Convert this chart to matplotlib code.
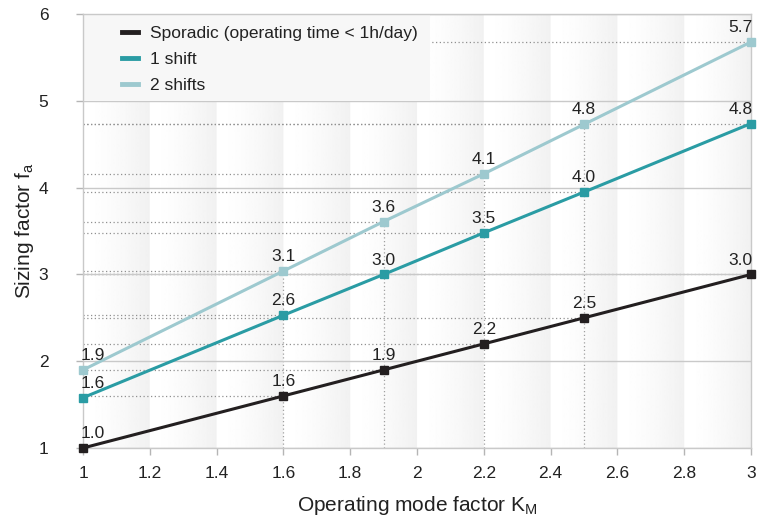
import matplotlib.pyplot as plt
from matplotlib.patches import Rectangle
import numpy as np

plt.rcParams['font.family'] = ['Liberation Sans', 'DejaVu Sans']

# ---------------- data ----------------
km = [1.0, 1.6, 1.9, 2.2, 2.5, 3.0]
sporadic = [1.0, 1.6, 1.9, 2.2, 2.5, 3.0]
one_shift = [1.58, 2.53, 3.0, 3.48, 3.95, 4.74]
two_shifts = [1.9, 3.04, 3.61, 4.16, 4.73, 5.68]
sporadic_lbl = ['1.0', '1.6', '1.9', '2.2', '2.5', '3.0']
one_shift_lbl = ['1.6', '2.6', '3.0', '3.5', '4.0', '4.8']
two_shifts_lbl = ['1.9', '3.1', '3.6', '4.1', '4.8', '5.7']
series_names = ['Sporadic (operating time < 1h/day)', '1 shift', '2 shifts']
colors = ['#231f20', '#2a9ca4', '#9dc9cf']
x_ticks = [1, 1.2, 1.4, 1.6, 1.8, 2, 2.2, 2.4, 2.6, 2.8, 3]
x_tick_lbl = ['1', '1.2', '1.4', '1.6', '1.8', '2', '2.2', '2.4', '2.6', '2.8', '3']
y_ticks = [1, 2, 3, 4, 5, 6]

fig = plt.figure(figsize=(7.66, 5.22), dpi=100)
ax = fig.add_axes([0.1084, 0.1418, 0.872, 0.831])
ax.set_xlim(1, 3)
ax.set_ylim(1, 6)

############## gradient background bands ##############
n_bands = 10
ramp = np.linspace(0.0, 1.0, 60) ** 1.5
band = 1.0 - 0.055 * ramp
bg = np.tile(band, n_bands)[np.newaxis, :]
ax.imshow(bg, cmap='gray', vmin=0, vmax=1, extent=[1, 3, 1, 6],
          aspect='auto', interpolation='bilinear', zorder=0)
#######################################################

ax.set_yticks(y_ticks)
ax.set_xticks(x_ticks)
ax.set_xticklabels(x_tick_lbl)
ax.grid(axis='y', color='#c9c9c9', lw=1, zorder=1)
ax.tick_params(axis='both', colors='#b5b5b5', labelcolor='#222222',
               labelsize=12.5, length=5, width=1)
ax.tick_params(axis='x', pad=8)
ax.tick_params(axis='y', pad=20)
for s in ax.spines.values():
    s.set_color('#c9c9c9')
    s.set_linewidth(1)

all_series = [sporadic, one_shift, two_shifts]
all_labels = [sporadic_lbl, one_shift_lbl, two_shifts_lbl]

# dotted guide lines
for i, x in enumerate(km):
    top = max(s[i] for s in all_series)
    if 1 < x < 3:
        ax.plot([x, x], [1, top], color='#a0a0a0', lw=0.9, ls=(0, (1, 2)), zorder=1.5)
    if x > 1:
        for s in all_series:
            ax.plot([1, x], [s[i], s[i]], color='#909090', lw=0.9, ls=(0, (1, 2)), zorder=1.5)

# legend background box
ax.add_patch(Rectangle((0, 0.8), 0.52, 0.2, transform=ax.transAxes,
                       facecolor='#f7f7f7', edgecolor='none', zorder=2))

handles = []
for vals, lbls, c, name in zip(all_series, all_labels, colors, series_names):
    ax.plot(km, vals, color=c, lw=2.2, marker='s', ms=5.5, zorder=3,
            clip_on=False)
    handles.append(plt.Line2D([], [], color=c, lw=3.5))
    for x, y, t in zip(km, vals, lbls):
        ha = 'center'
        dx = 0
        if x == 1:
            ha, dx = 'left', -2
        elif x == 3:
            ha, dx = 'right', 1
        ax.annotate(t, (x, y), xytext=(dx, 5), textcoords='offset points',
                    ha=ha, va='bottom', fontsize=12.5, color='#222222', zorder=4)

leg = ax.legend(handles, series_names, loc='upper left', bbox_to_anchor=(0.038, 1.005),
                frameon=False, fontsize=12.5, handlelength=0.9, handletextpad=0.7,
                labelspacing=0.62, borderaxespad=0.4)
leg.set_zorder(5)
for t in leg.get_texts():
    t.set_color('#222222')

ax.set_xlabel('Operating mode factor K$_\\mathregular{M}$', fontsize=15, color='#222222', labelpad=9)
ax.set_ylabel('Sizing factor f$_\\mathregular{a}$', fontsize=15, color='#222222', labelpad=2)

fig.savefig('out.png', dpi=100)
